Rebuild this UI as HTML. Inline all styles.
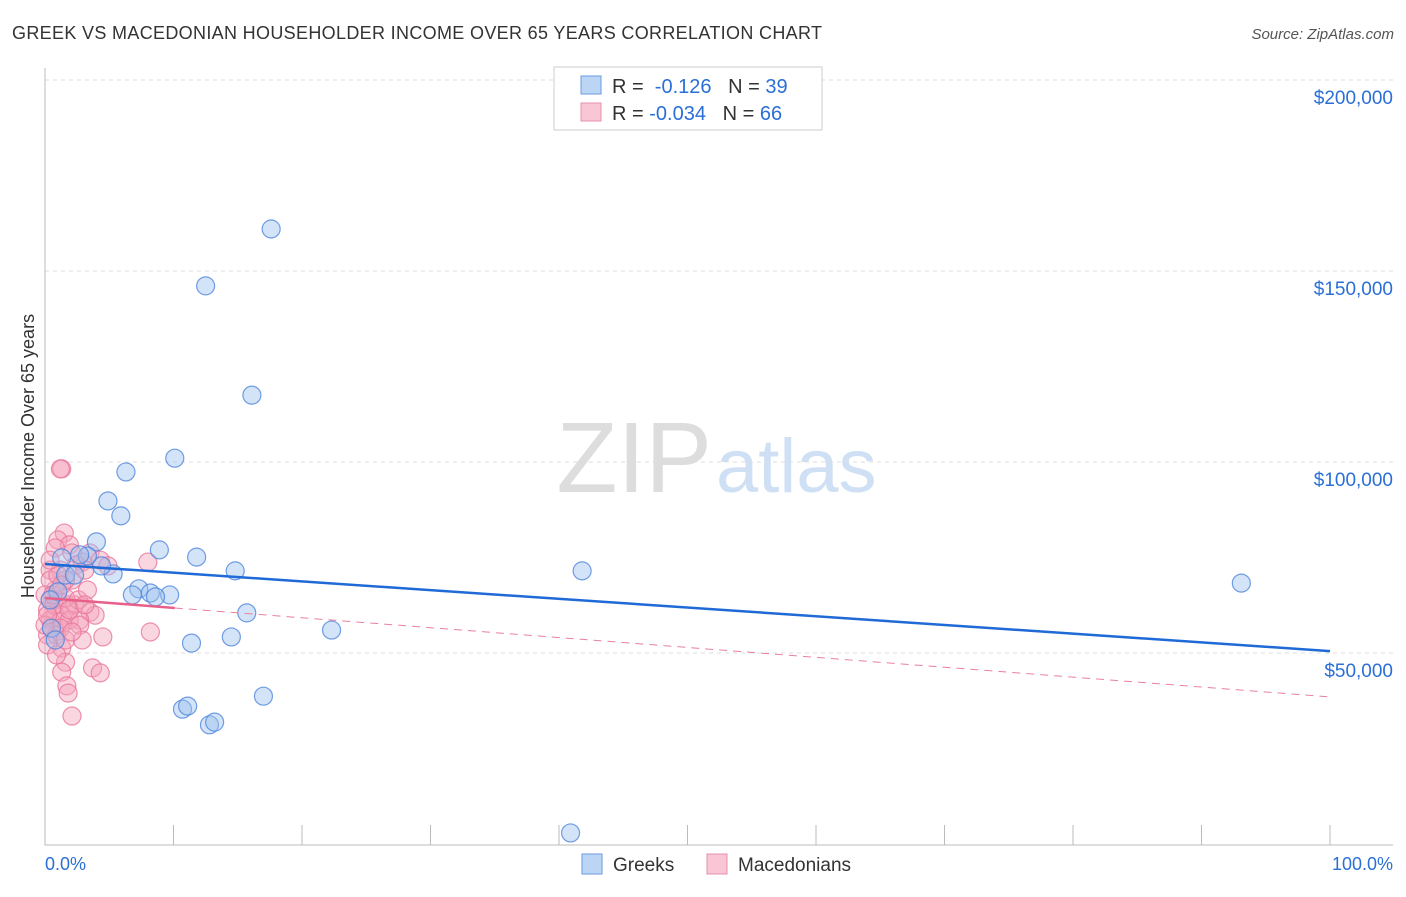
<!DOCTYPE html>
<html><head><meta charset="utf-8"><style>
body{margin:0;background:#fff;font-family:"Liberation Sans",sans-serif;}
svg text{font-family:"Liberation Sans",sans-serif;}
</style></head><body>
<svg id="c" width="1406" height="892">
<text x="12" y="39" font-size="18" fill="#333" textLength="810">GREEK VS MACEDONIAN HOUSEHOLDER INCOME OVER 65 YEARS CORRELATION CHART</text>
<text x="1394" y="39" font-size="15" fill="#555" text-anchor="end" font-style="italic">Source: ZipAtlas.com</text>
<text x="712" y="492" font-size="100" fill="#ddd" text-anchor="end" font-family="Liberation Serif">ZIP</text>
<text x="716" y="492" font-size="76" fill="#cfe0f5">atlas</text>
<text transform="translate(34,456) rotate(-90)" font-size="18" fill="#333" text-anchor="middle">Householder Income Over 65 years</text>
<g id="grid"></g><g id="marks"></g>
<rect x="554" y="67" width="268" height="63" fill="#fff" stroke="#ccc"/>
<rect x="581" y="76" width="20" height="18" fill="#bcd5f5" stroke="#6a9ae0"/>
<rect x="581" y="103" width="20" height="18" fill="#f9c6d5" stroke="#e890aa"/>
<text x="612" y="93" font-size="20" fill="#333">R = <tspan fill="#2a6fd6">&#160;-0.126</tspan>&#160;&#160;&#160;N = <tspan fill="#2a6fd6">39</tspan></text>
<text x="612" y="120" font-size="20" fill="#333">R = <tspan fill="#2a6fd6">-0.034</tspan>&#160;&#160;&#160;N = <tspan fill="#2a6fd6">66</tspan></text>
<text x="45" y="870" font-size="18" fill="#2a6fd6">0.0%</text>
<text x="1393" y="870" font-size="18" fill="#2a6fd6" text-anchor="end">100.0%</text>
<rect x="582" y="854" width="20" height="20" fill="#bcd5f5" stroke="#6a9ae0"/>
<text x="613" y="871" font-size="19" fill="#333">Greeks</text>
<rect x="707" y="854" width="20" height="20" fill="#f9c6d5" stroke="#e890aa"/>
<text x="738" y="871" font-size="19" fill="#333">Macedonians</text>
</svg>
<script>
const yTicks=[50000,100000,150000,200000];
const yTickLabels=["$50,000","$100,000","$150,000","$200,000"];
const xTicks=[0,10,20,30,40,50,60,70,80,90,100];
const greekX=[17.6,12.5,16.1,10.1,6.3,4.9,5.9,4.0,8.9,11.8,5.3,4.4,3.3,1.3,1.0,7.3,8.2,9.7,8.6,6.8,14.8,15.7,22.3,11.4,14.5,17.0,10.7,11.1,12.8,13.2,41.8,93.1,40.9,0.5,0.4,1.6,2.7,2.3,0.8];
const greekY=[161.0,146.1,117.5,101.0,97.4,89.8,85.9,79.1,77.0,75.1,70.7,72.8,75.4,74.9,66.0,66.8,65.7,65.2,64.7,65.2,71.5,60.5,56.0,52.6,54.2,38.7,35.3,36.1,31.2,31.9,71.5,68.3,2.9,56.5,63.9,70.4,75.7,70.4,53.4];
const macX=[1.3,1.2,1.5,1.0,1.9,0.8,3.5,2.1,4.3,2.9,4.9,8.0,1.2,0.4,2.1,1.6,0.8,0.4,1.0,1.8,2.3,0.2,0.8,1.3,3.5,3.9,0.4,1.2,1.9,2.7,0.5,1.2,0.2,0.9,2.7,2.9,4.5,8.2,1.3,1.6,1.3,3.7,4.3,1.7,1.8,2.1,0.4,0.0,0.7,1.6,1.0,2.4,3.1,0.4,1.6,2.1,0.2,0.9,2.6,3.3,0.0,0.6,1.9,1.3,0.2,3.1];
const macY=[98.2,98.2,81.4,79.6,78.3,77.5,76.2,76.2,74.3,73.8,72.8,73.8,71.7,71.7,69.1,69.1,66.5,63.9,63.9,62.6,62.6,61.3,59.9,59.9,60.7,59.9,58.6,58.1,58.6,58.6,56.5,56.5,54.7,54.7,57.3,53.4,54.2,55.5,51.3,47.6,45.0,46.1,44.8,41.4,39.5,33.5,69.1,65.2,62.6,64.4,70.4,73.0,71.7,74.3,53.4,55.5,52.1,49.5,63.9,66.5,57.3,65.2,61.3,67.8,59.9,62.6];
const greekTrend=[73.3,50.5];
const macTrend=[64.4,38.5];
const NS="http://www.w3.org/2000/svg";
const sx=v=>45+v*12.85, sy=k=>844-k*3.82;
function mk(t,a,p){const e=document.createElementNS(NS,t);for(const k in a)e.setAttribute(k,a[k]);p.appendChild(e);return e;}
const g=document.getElementById('grid'), m=document.getElementById('marks');
yTicks.forEach((v,i)=>{const y=sy(v/1000);
 const l=mk('line',{x1:45,x2:1393,y1:y,y2:y,stroke:'#ddd','stroke-dasharray':'4,4'},g);
 
 
 const t=mk('text',{x:1393,y:y+24,'font-size':19,fill:'#2a6fd6','text-anchor':'end'},g);
 t.textContent=yTickLabels[i];
 
 });
const ax=mk('path',{d:'M45,68V845H1393',stroke:'#bbb',fill:'none'},g);


xTicks.forEach(v=>{const x=sx(v);const l=mk('line',{x1:x,x2:x,y1:825,y2:845,stroke:'#bbb'},g);
 
 });
function pts(X,Y,fill,stroke,name){X.forEach((x,i)=>{const c=mk('circle',{cx:sx(x),cy:sy(Y[i]),r:9,fill:fill,'fill-opacity':0.45,stroke:stroke,'stroke-opacity':0.8,'stroke-width':1.2},m);
 
 });}
pts(macX,macY,'#f4a3bc','#e8779a','macedonian-point');
pts(greekX,greekY,'#9dc0ef','#4f86dc','greek-point');
const bl=mk('line',{x1:sx(0),y1:sy(greekTrend[0]),x2:sx(100),y2:sy(greekTrend[1]),stroke:'#1f6ad6','stroke-width':2.5},m);


const pe=macTrend[0]+(macTrend[1]-macTrend[0])*0.101;
const pl=mk('line',{x1:sx(0),y1:sy(macTrend[0]),x2:sx(10.1),y2:sy(pe),stroke:'#e8608a','stroke-width':2.5},m);


const pd=mk('line',{x1:sx(10.1),y1:sy(pe),x2:sx(100),y2:sy(macTrend[1]),stroke:'#e8809f','stroke-width':1,'stroke-dasharray':'8,6'},m);


</script>
</body></html>
